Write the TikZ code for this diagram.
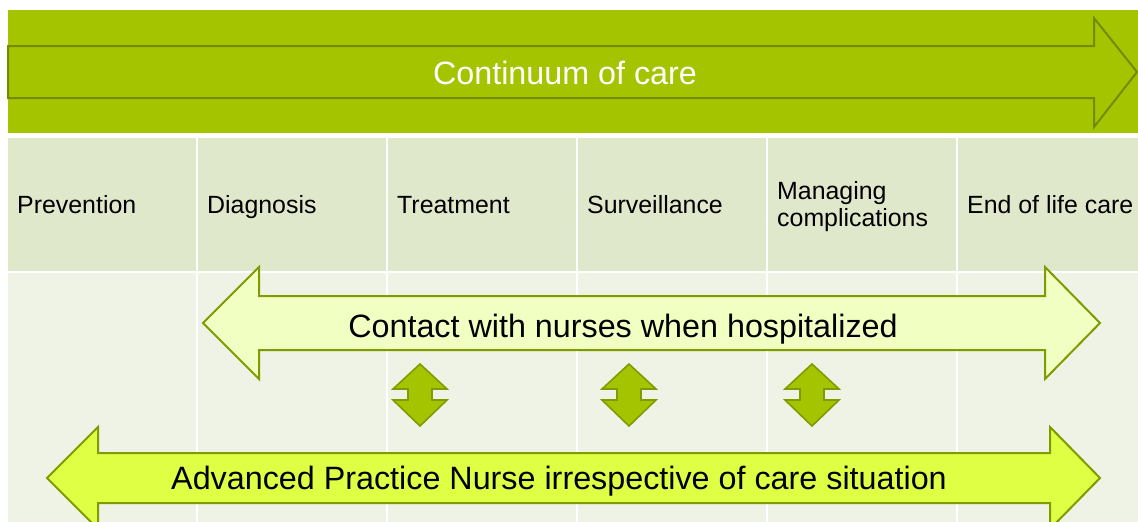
\documentclass[tikz,border=0pt]{standalone}
\usepackage{fontspec}
\setmainfont{Liberation Sans}
\definecolor{band}{HTML}{A5C400}
\definecolor{edge}{HTML}{7F9B00}
\definecolor{head}{HTML}{E0E8CC}
\definecolor{body}{HTML}{EFF3E6}
\definecolor{lightarrow}{HTML}{F1FFC2}
\definecolor{brightarrow}{HTML}{DFFF45}
\tikzset{
  hcell/.style={fill=head, draw=none},
  bcell/.style={fill=body, draw=none},
  phase/.style={anchor=base west, align=left, font=\fontsize{24.9}{27.5}\selectfont, text=black, inner sep=0pt},
  bigtext/.style={anchor=base, font=\fontsize{32.3}{38}\selectfont, inner sep=0pt},
  arrowshape/.style={draw=edge, line width=2pt, line join=miter},
}
\begin{document}
\begin{tikzpicture}[x=1pt,y=-1pt]
\useasboundingbox (0,0) rectangle (1138,522);
\fill[white] (0,0) rectangle (1138,522);
\begin{scope}
\clip (0,0) rectangle (1138,522);
% top band
\fill[band] (8,10) rectangle (1138,133);
\draw[arrowshape, fill=band, draw=edge!90!black] (8,46) -- (1094,46) -- (1094,18) -- (1137,72) -- (1094,127) -- (1094,98) -- (8,98) -- cycle;
\node[bigtext, text=white] (title) at (565,84) {Continuum of care};
% table cells
\foreach \x/\w in {8/188, 198/188, 388/188, 578/188, 768/188, 958/180} {
  \fill[hcell] (\x,138) rectangle ++(\w,133);
  \fill[bcell] (\x,273) rectangle ++(\w,249);
}
\node[phase] (p1) at (17,213.5) {Prevention};
\node[phase] (p2) at (207,213.5) {Diagnosis};
\node[phase] (p3) at (397,213.5) {Treatment};
\node[phase] (p4) at (587,213.5) {Surveillance};
\node[phase] (p5) at (777,226.5) {Managing\\complications};
\node[phase] (p6) at (967,213.5) {End of life care};
% contact arrow
\draw[arrowshape, fill=lightarrow] (203,323) -- (259,267) -- (259,296) -- (1045,296) -- (1045,267) -- (1100,323) -- (1045,379) -- (1045,350) -- (259,350) -- (259,379) -- cycle;
\node[bigtext] (contact) at (623,337) {Contact with nurses when hospitalized};
% small up-down arrows
\foreach \cx/\n in {420/a, 629/b, 812/c} {
  \draw[arrowshape, fill=band, line width=1.6pt] (\cx,364) -- (\cx+27,389) -- (\cx+12,389) -- (\cx+12,400) -- (\cx+27,400) -- (\cx,426) -- (\cx-27,400) -- (\cx-12,400) -- (\cx-12,389) -- (\cx-27,389) -- cycle;
  \coordinate (ud\n) at (\cx,395);
}
% advanced arrow
\draw[arrowshape, fill=brightarrow] (47,478) -- (98,427) -- (98,453) -- (1050,453) -- (1050,427) -- (1100,478) -- (1050,529) -- (1050,503) -- (98,503) -- (98,529) -- cycle;
\node[bigtext] (apn) at (559,489) {Advanced Practice Nurse irrespective of care situation};
\end{scope}
\end{tikzpicture}
\end{document}
